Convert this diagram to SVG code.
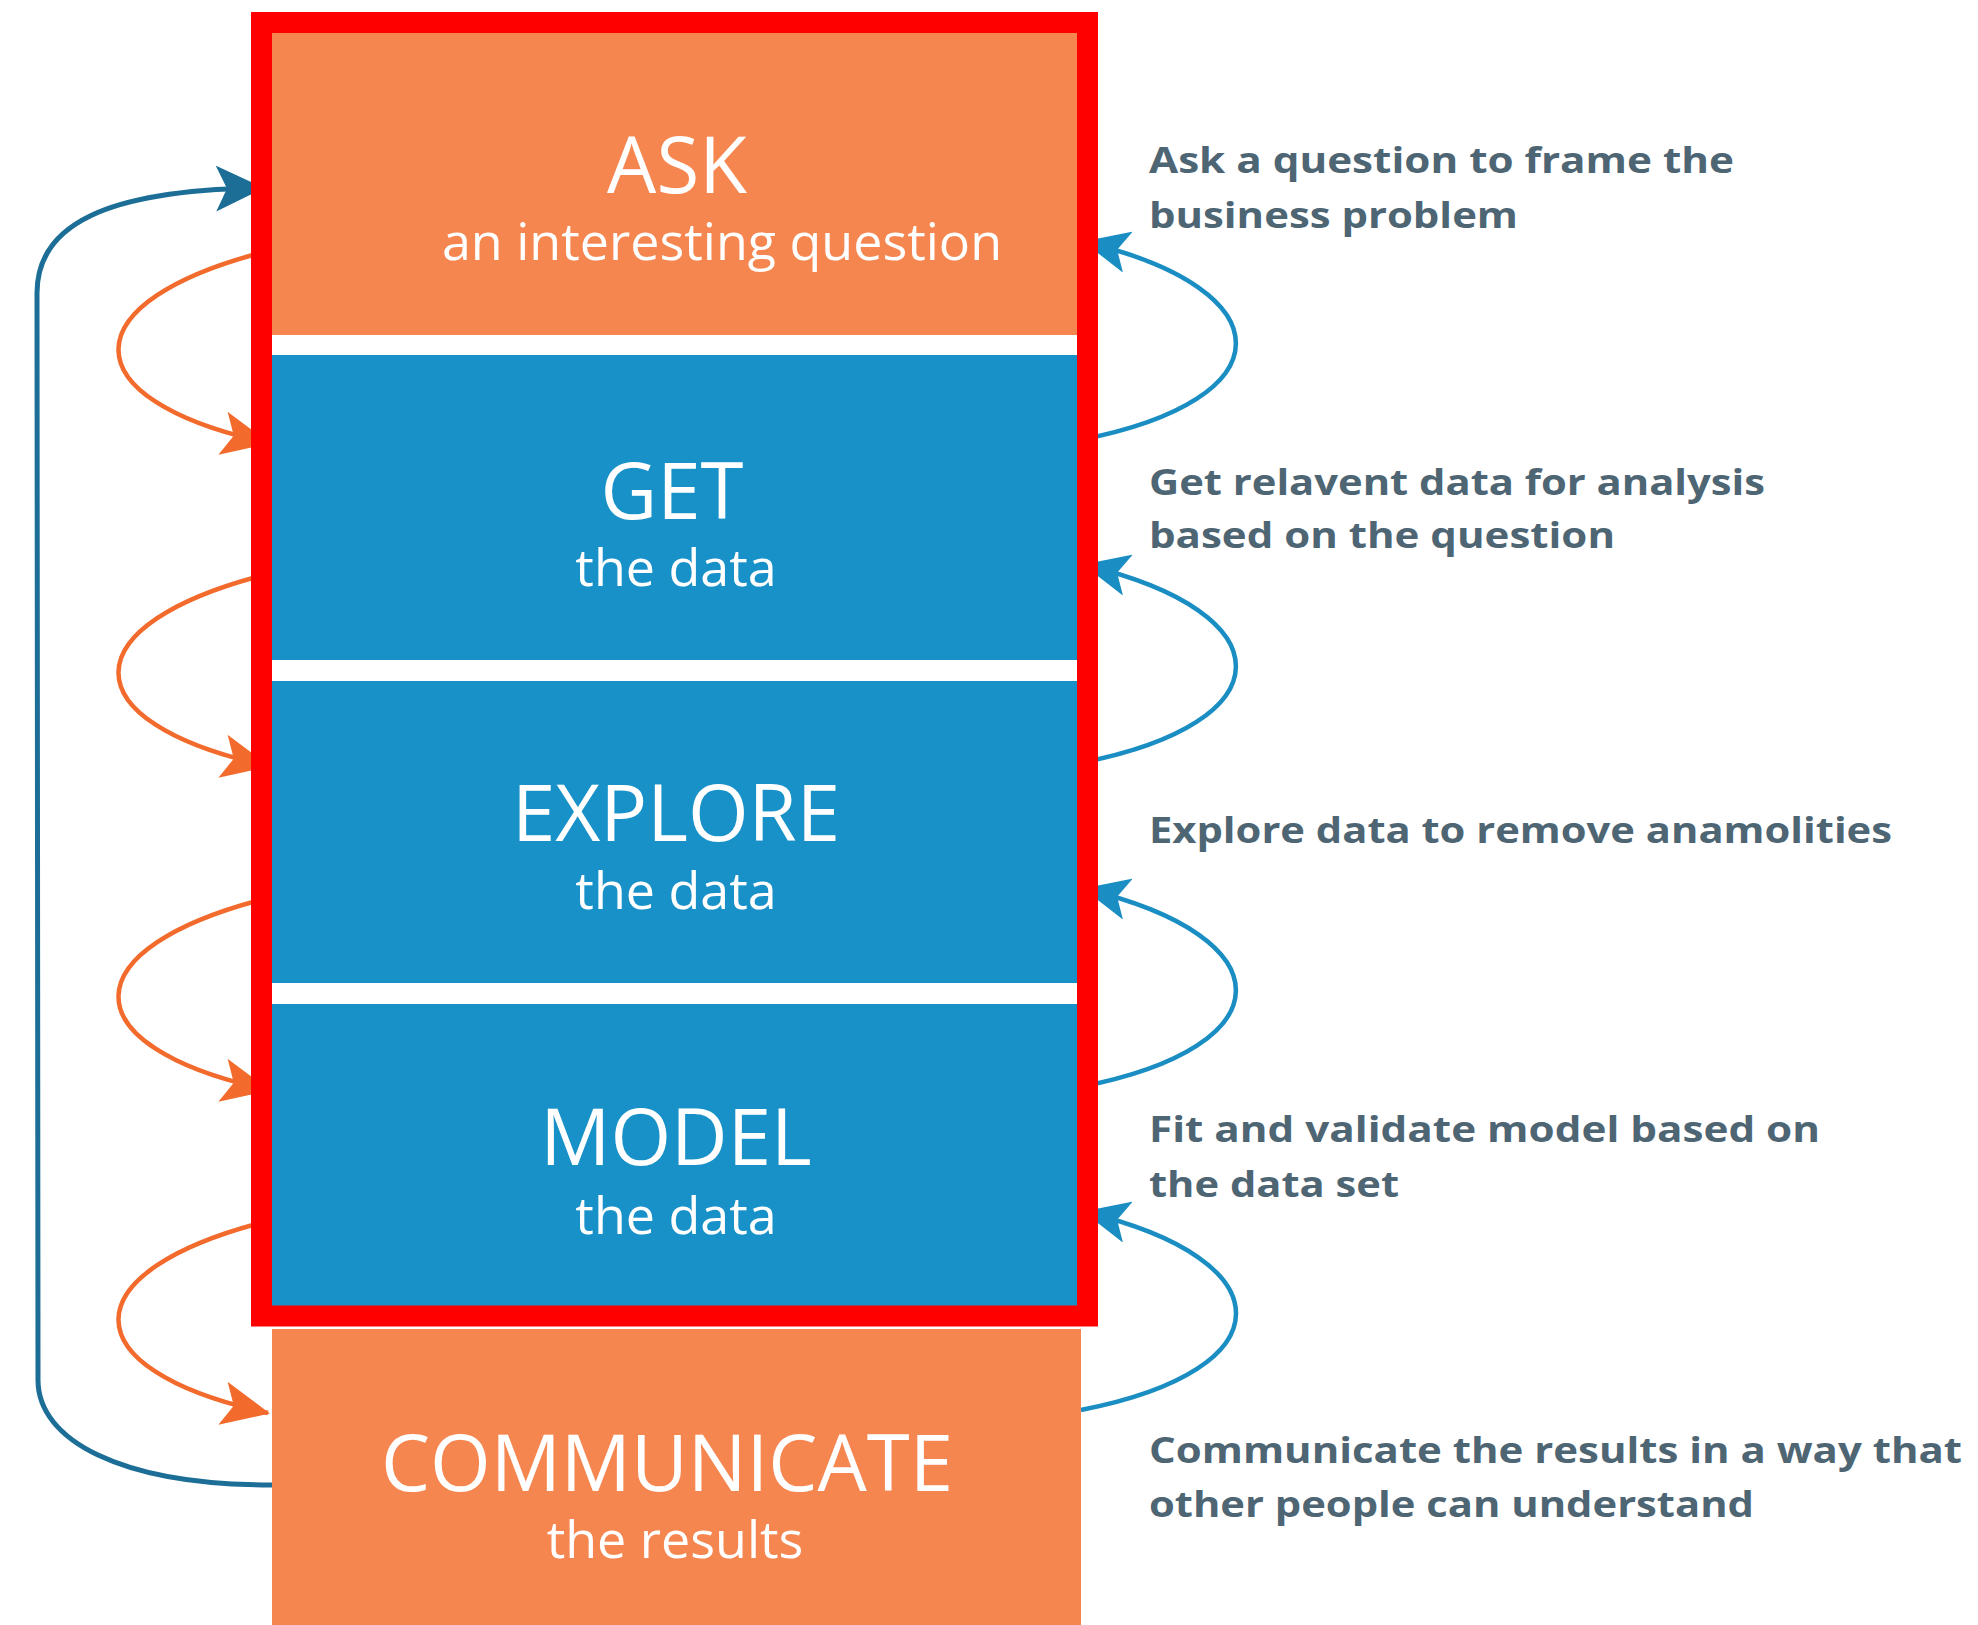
<svg xmlns="http://www.w3.org/2000/svg" width="1978" height="1625" viewBox="0 0 1978 1625">
  <style>
    .orange { fill: #F6864F; }
    .blue { fill: #1891C9; }
    .title { font-family: "Open Sans", "Liberation Sans", sans-serif; font-size: 78px; fill: #FFFFFF; text-anchor: middle; }
    .sub { font-family: "Open Sans", "Liberation Sans", sans-serif; font-size: 52px; fill: #FFFFFF; text-anchor: middle; }
    .note { font-family: "Open Sans", "Liberation Sans", sans-serif; font-weight: 700; font-size: 36px; fill: #4E6574; }
    .arc-o { fill: none; stroke: #F26A2C; stroke-width: 4.5; marker-end: url(#headO); }
    .arc-b { fill: none; stroke: #1A8DC2; stroke-width: 4.5; marker-end: url(#headB); }
    .loop { fill: none; stroke: #1C6E96; stroke-width: 5; marker-end: url(#headD); }
  </style>
  <defs>
    <marker id="headO" markerUnits="userSpaceOnUse" viewBox="0 0 48 44" refX="46" refY="22" markerWidth="48" markerHeight="44" orient="auto">
      <path d="M0,0 L48,22 L0,44 L11,22 Z" fill="#F26A2C"/>
    </marker>
    <marker id="headB" markerUnits="userSpaceOnUse" viewBox="0 0 46 42" refX="44" refY="21" markerWidth="46" markerHeight="42" orient="auto">
      <path d="M0,0 L46,21 L0,42 L11,21 Z" fill="#1A8DC2"/>
    </marker>
    <marker id="headD" markerUnits="userSpaceOnUse" viewBox="0 0 48 46" refX="46" refY="23" markerWidth="48" markerHeight="46" orient="auto">
      <path d="M0,0 L48,23 L0,46 L11,23 Z" fill="#1C6E96"/>
    </marker>
  </defs>
  <rect width="1978" height="1625" fill="#FFFFFF"/>

  <g id="connectors">
    <path class="arc-o" d="M272 250 C68 300, 68 400, 268 443"/>
    <path class="arc-o" d="M272 573 C68 623, 68 723, 268 766"/>
    <path class="arc-o" d="M272 897 C68 947, 68 1047, 268 1090"/>
    <path class="arc-o" d="M272 1220 C68 1270, 68 1370, 268 1413"/>
    <path class="arc-b" d="M1080 440 C1287 400, 1287 290, 1085 242"/>
    <path class="arc-b" d="M1080 763 C1287 723, 1287 613, 1085 565"/>
    <path class="arc-b" d="M1080 1087 C1287 1047, 1287 937, 1085 889"/>
    <path class="arc-b" d="M1081 1410 C1287 1370, 1287 1260, 1085 1212"/>
    <path class="loop" d="M272 1485 C120 1485, 38 1440, 38 1380 L37 293 C37 225, 105 190, 262 188"/>
  </g>

  <g id="ask">
    <rect class="orange" x="272" y="33" width="806" height="302"/>
    <text class="title" x="677" y="193">ASK</text>
    <text class="sub" x="722" y="260">an interesting question</text>
  </g>
  <g id="get">
    <rect class="blue" x="272" y="355" width="806" height="305"/>
    <text class="title" x="672" y="519">GET</text>
    <text class="sub" x="676" y="586">the data</text>
  </g>
  <g id="explore">
    <rect class="blue" x="272" y="681" width="806" height="302"/>
    <text class="title" x="676" y="841">EXPLORE</text>
    <text class="sub" x="676" y="909">the data</text>
  </g>
  <g id="model">
    <rect class="blue" x="272" y="1004" width="806" height="302"/>
    <text class="title" x="676" y="1165">MODEL</text>
    <text class="sub" x="676" y="1234">the data</text>
  </g>
  <g id="communicate">
    <rect class="orange" x="272" y="1329" width="809" height="296"/>
    <text class="title" x="667" y="1491">COMMUNICATE</text>
    <text class="sub" x="675" y="1558">the results</text>
  </g>

  <g id="notes">
    <text class="note" x="1149" y="173" textLength="585" lengthAdjust="spacingAndGlyphs">Ask a question to frame the</text>
    <text class="note" x="1149" y="228" textLength="369" lengthAdjust="spacingAndGlyphs">business problem</text>
    <text class="note" x="1149" y="495" textLength="616" lengthAdjust="spacingAndGlyphs">Get relavent data for analysis</text>
    <text class="note" x="1149" y="548" textLength="466" lengthAdjust="spacingAndGlyphs">based on the question</text>
    <text class="note" x="1149" y="843" textLength="743" lengthAdjust="spacingAndGlyphs">Explore data to remove anamolities</text>
    <text class="note" x="1149" y="1142" textLength="671" lengthAdjust="spacingAndGlyphs">Fit and validate model based on</text>
    <text class="note" x="1149" y="1197" textLength="250" lengthAdjust="spacingAndGlyphs">the data set</text>
    <text class="note" x="1149" y="1463" textLength="813" lengthAdjust="spacingAndGlyphs">Communicate the results in a way that</text>
    <text class="note" x="1149" y="1517" textLength="605" lengthAdjust="spacingAndGlyphs">other people can understand</text>
  </g>

  <g id="highlight">
    <rect x="261.5" y="22.5" width="826" height="1293.5" fill="none" stroke="#FF0000" stroke-width="21"/>
  </g>
</svg>
